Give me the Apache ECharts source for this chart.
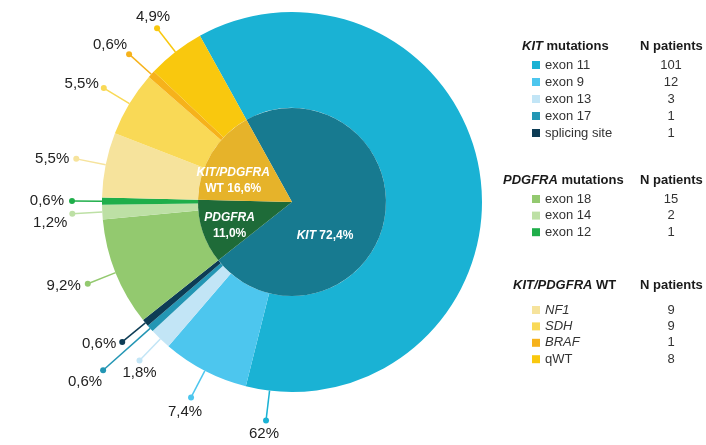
<!DOCTYPE html>
<html>
<head>
<meta charset="utf-8">
<script src="https://cdn.jsdelivr.net/npm/echarts@6/dist/echarts.min.js"></script>
<style>
  html, body { margin: 0; padding: 0; background: #fff; }
  #main { width: 706px; height: 445px; }
</style>
</head>
<body>
<div id="main"></div>
<script>
var FONT = '"Liberation Sans", Arial, sans-serif';

// data
var kitNames = ['exon 11', 'exon 9', 'exon 13', 'exon 17', 'splicing site'];
var kitCounts = [101, 12, 3, 1, 1];
var pdgfraNames = ['exon 18', 'exon 14', 'exon 12'];
var pdgfraCounts = [15, 2, 1];
var wtNames = ['NF1', 'SDH', 'BRAF', 'qWT'];
var wtCounts = [9, 9, 1, 8];
var outerPct = ['62%', '7,4%', '1,8%', '0,6%', '0,6%', '9,2%', '1,2%', '0,6%', '5,5%', '5,5%', '0,6%', '4,9%'];
var groupNames = ['KIT', 'PDGFRA', 'KIT/PDGFRA WT'];
var groupPct = ['72,4%', '11,0%', '16,6%'];

// colours
var kitColors = ['#1ab2d4', '#4dc6ee', '#c2e5f6', '#2396b4', '#0d3c55'];
var pdgfraColors = ['#93c96f', '#bde0a5', '#1fae4a'];
var wtColors = ['#f6e39c', '#f9d956', '#f6b21b', '#f9c80e'];
var innerColors = ['#177a90', '#1e6b38', '#e6b32a'];

// layout
var CX = 292, CY = 202, R_IN = 94, R_OUT = 190, START = 119;
var leaderEnd = [220, 220, 220, 253, 220, 220, 220, 220, 220, 220, 220, 220];
var anchorOverride = { 0: 97.7 };
var labelOffset = [
  [-2, 13, 'center'], [-6, 14, 'center'], [0, 12, 'center'], [-1, 12, 'right'],
  [-6, 2, 'right'], [-7, 2, 'right'], [-5, 9, 'right'], [-8, 0, 'right'],
  [-7, 0, 'right'], [-5, -4, 'right'], [-2, -9, 'right'], [-4, -11, 'center']
];
var innerShift = [[-16, 24], [-15, 8], [-16, 5]];

var outerNames = kitNames.concat(pdgfraNames, wtNames);
var outerCounts = kitCounts.concat(pdgfraCounts, wtCounts);
var outerColors = kitColors.concat(pdgfraColors, wtColors);
var total = outerCounts.reduce(function (a, b) { return a + b; }, 0);
var groupCounts = [kitCounts, pdgfraCounts, wtCounts].map(function (g) {
  return g.reduce(function (a, b) { return a + b; }, 0);
});

var countByName = {};
outerNames.forEach(function (n, i) { countByName[n] = outerCounts[i]; });

var outerData = outerNames.map(function (n, i) {
  return { name: n, value: outerCounts[i], itemStyle: { color: outerColors[i] } };
});
var innerLabels = [
  '{i|KIT} {b|' + groupPct[0] + '}',
  '{i|PDGFRA}\n{b|' + groupPct[1] + '}',
  '{i|KIT/PDGFRA}\n{b|WT ' + groupPct[2] + '}'
];
var innerData = groupNames.map(function (n, i) {
  return { name: n, value: groupCounts[i], itemStyle: { color: innerColors[i] },
    label: { formatter: innerLabels[i] } };
});

// leader line anchors on the polar axis (value = patient count position)
var leaderData = [];
var cum = 0;
outerCounts.forEach(function (c, i) {
  var a = anchorOverride[i] !== undefined ? anchorOverride[i] : cum + c / 2;
  leaderData.push([leaderEnd[i], a, i]);
  cum += c;
});

var italicNames = { NF1: 1, SDH: 1, BRAF: 1 };
function legendFmt(name) {
  var key = italicNames[name] ? 'ni' : 'n';
  return '{' + key + '|' + name + '}{v|' + countByName[name] + '}';
}
var legendRich = {
  n: { width: 106, fontSize: 13, lineHeight: 13, color: '#333', fontFamily: FONT },
  ni: { width: 106, fontSize: 13, lineHeight: 13, color: '#333', fontFamily: FONT, fontStyle: 'italic' },
  v: { width: 40, align: 'center', fontSize: 13, lineHeight: 13, color: '#333', fontFamily: FONT }
};
function makeLegend(names, top, gap) {
  return {
    data: names, orient: 'vertical', left: 532, top: top, itemGap: gap,
    itemWidth: 8, itemHeight: 8, icon: 'rect', selectedMode: false,
    formatter: legendFmt, textStyle: { rich: legendRich }, padding: 0
  };
}

var headRich = {
  i: { fontStyle: 'italic', fontWeight: 'bold', fontSize: 13, fontFamily: FONT, fill: '#1a1a1a' },
  r: { fontWeight: 'bold', fontSize: 13, fontFamily: FONT, fill: '#1a1a1a' }
};
function header(text, x, y) {
  return { type: 'text', x: x, y: y, silent: true,
    style: { text: text, rich: headRich, verticalAlign: 'middle', fontSize: 13, fontWeight: 'bold', fontFamily: FONT } };
}

var chart = echarts.init(document.getElementById('main'));
chart.setOption({
  animation: false,
  backgroundColor: '#fff',
  polar: { center: [CX, CY], radius: 260 },
  angleAxis: { type: 'value', min: 0, max: total, startAngle: START, clockwise: true, show: false },
  radiusAxis: { type: 'value', min: 0, max: 260, show: false },
  legend: [
    makeLegend(kitNames, 58.5, 4),
    makeLegend(pdgfraNames, 192.5, 3.6),
    makeLegend(wtNames, 303.5, 3.4)
  ],
  graphic: [
    header('{i|KIT}{r| mutations}', 522, 46),
    header('{r|N patients}', 640, 46),
    header('{i|PDGFRA}{r| mutations}', 503, 180),
    header('{r|N patients}', 640, 180),
    header('{i|KIT/PDGFRA}{r| WT}', 513, 285),
    header('{r|N patients}', 640, 285)
  ],
  series: [
    {
      type: 'pie', center: [CX, CY], radius: [R_IN, R_OUT], startAngle: START, clockwise: true,
      label: { show: false }, labelLine: { show: false }, emphasis: { disabled: true },
      data: outerData
    },
    {
      type: 'pie', center: [CX, CY], radius: [0, R_IN], startAngle: START, clockwise: true,
      emphasis: { disabled: true },
      label: {
        position: 'inside', color: '#fff',
        rich: {
          i: { fontStyle: 'italic', fontWeight: 'bold', fontSize: 12, color: '#fff', fontFamily: FONT, lineHeight: 16 },
          b: { fontWeight: 'bold', fontSize: 12, color: '#fff', fontFamily: FONT, lineHeight: 16 }
        }
      },
      labelLayout: function (p) {
        return { dx: innerShift[p.dataIndex][0], dy: innerShift[p.dataIndex][1] };
      },
      data: innerData
    },
    {
      type: 'custom', coordinateSystem: 'polar', clip: false, silent: true,
      data: leaderData,
      renderItem: function (params, api) {
        var i = api.value(2);
        var a = api.value(1);
        var p0 = api.coord([R_OUT, a]);
        var p1 = api.coord([api.value(0), a]);
        var off = labelOffset[i];
        var col = outerColors[i];
        return {
          type: 'group',
          children: [
            { type: 'line', shape: { x1: p0[0], y1: p0[1], x2: p1[0], y2: p1[1] },
              style: { stroke: col, lineWidth: 1.5 } },
            { type: 'circle', shape: { cx: p1[0], cy: p1[1], r: 3 }, style: { fill: col } },
            { type: 'text', x: p1[0] + off[0], y: p1[1] + off[1],
              style: { text: outerPct[i], align: off[2], verticalAlign: 'middle',
                fontSize: 15, fontFamily: FONT, fill: '#222' } }
          ]
        };
      }
    }
  ]
});
</script>
</body>
</html>
